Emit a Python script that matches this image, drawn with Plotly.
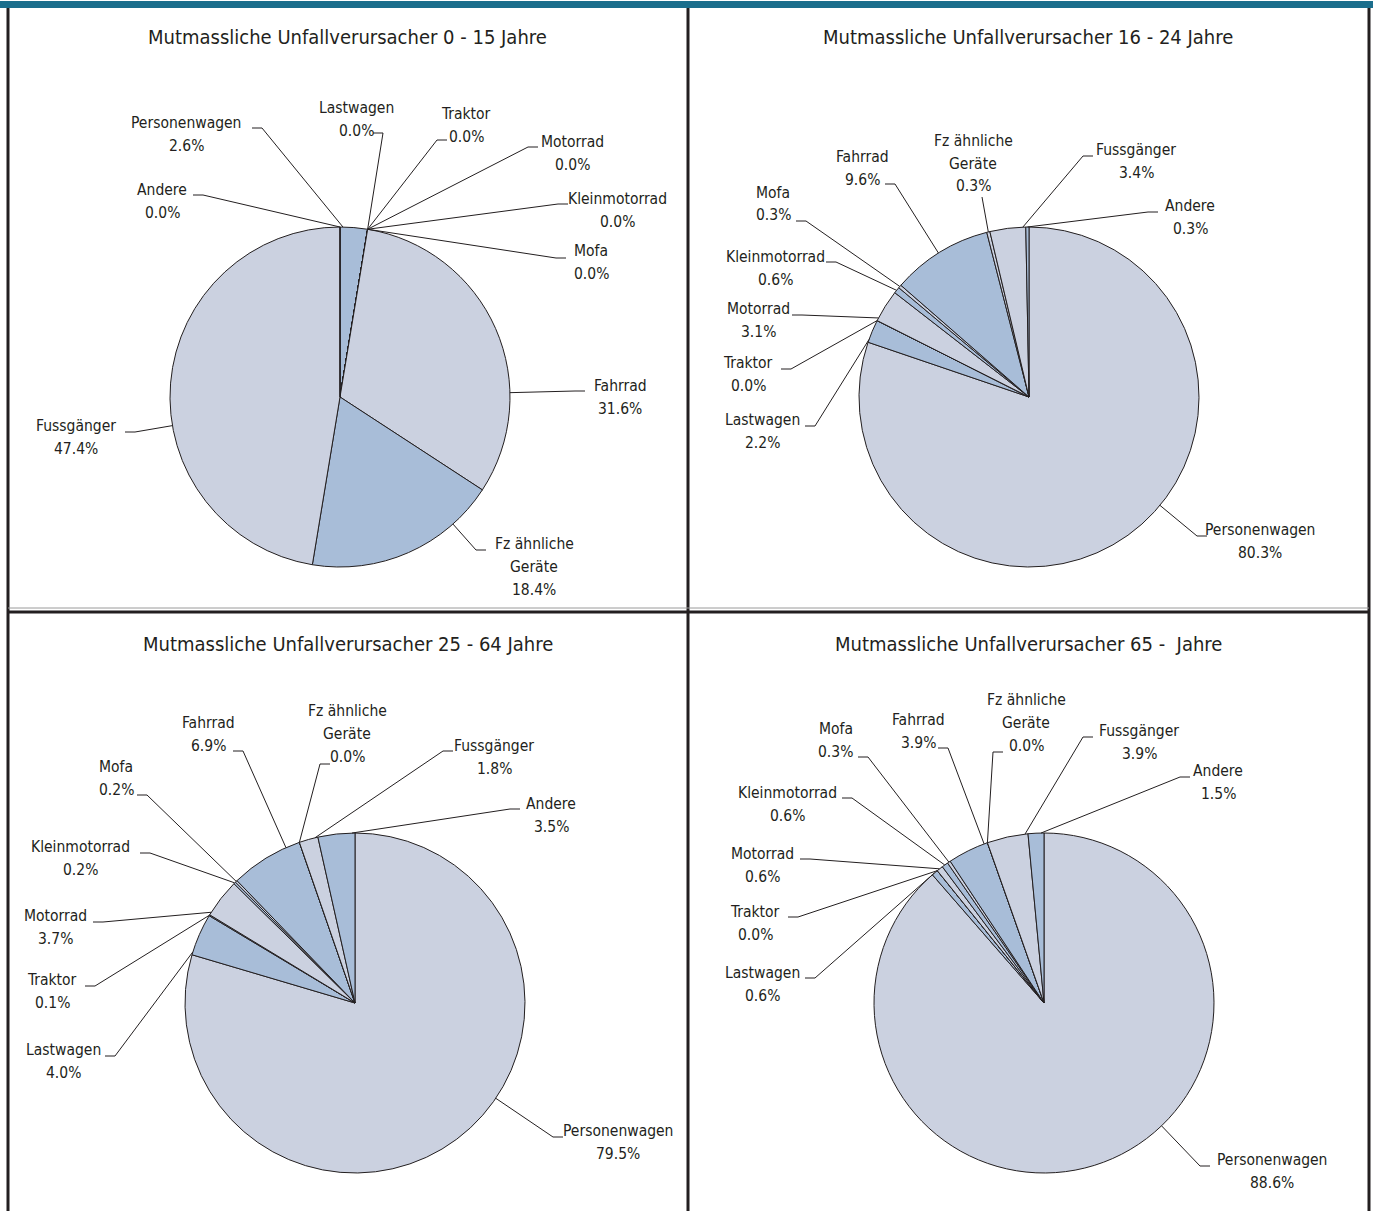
import math
import plotly.graph_objects as go

W, H = 1373, 1211

categories = ["Personenwagen", "Lastwagen", "Traktor", "Motorrad", "Kleinmotorrad",
              "Mofa", "Fahrrad", "Fz ähnliche Geräte", "Fussgänger", "Andere"]
label_lines = [["Personenwagen"], ["Lastwagen"], ["Traktor"], ["Motorrad"], ["Kleinmotorrad"],
               ["Mofa"], ["Fahrrad"], ["Fz ähnliche", "Geräte"], ["Fussgänger"], ["Andere"]]

titles = ["Mutmassliche Unfallverursacher 0 - 15 Jahre",
          "Mutmassliche Unfallverursacher 16 - 24 Jahre",
          "Mutmassliche Unfallverursacher 25 - 64 Jahre",
          "Mutmassliche Unfallverursacher 65 -  Jahre"]

values_0_15 = [2.6, 0.0, 0.0, 0.0, 0.0, 0.0, 31.6, 18.4, 47.4, 0.0]
values_16_24 = [80.3, 2.2, 0.0, 3.1, 0.6, 0.3, 9.6, 0.3, 3.4, 0.3]
values_25_64 = [79.5, 4.0, 0.1, 3.7, 0.2, 0.2, 6.9, 0.0, 1.8, 3.5]
values_65 = [88.6, 0.6, 0.0, 0.6, 0.6, 0.3, 3.9, 0.0, 3.9, 1.5]
all_values = [values_0_15, values_16_24, values_25_64, values_65]

# ---- styling / layout (pixels) ----
L, B = "#cbd1e0", "#a8bdd8"
colors_first = [B, L, B, L, B, L, L, B, L, B]
colors_other = [L, B, B, L, B, L, B, L, L, B]
pie_colors = [colors_first, colors_other, colors_other, colors_other]

R = 170
centers = [(340, 397), (1029, 397), (355, 1003), (1044, 1003)]
title_pos = [(348, 37), (1028, 37), (348, 644), (1028, 644)]
LINE_H = 23

# per label: text centre (tx, ty), leader elbow (ex, ey), tick side s
label_layout = [
    [(186, 134.5, 262, 128, 1), (356, 119.5, 383, 133, 1), (466, 125.5, 437, 140, -1),
     (572, 153.5, 528, 147, -1), (617, 210.5, 558, 204, -1), (591, 262.5, 556, 258, -1),
     (620, 397.5, 575, 391, -1), (534, 566.5, 476, 550, -1), (76, 437.5, 135, 432, 1),
     (162, 201.5, 203, 195, 1)],
    [(1260, 541, 1197, 536, -1), (762, 431.5, 815, 426, 1), (748, 374.5, 791, 369, 1),
     (758, 320.5, 802, 315, 1), (775, 268.5, 836, 262, 1), (773, 204, 806, 221, 1),
     (863, 168.5, 895, 184, 1), (973, 163.5, 982, 197, 0), (1136, 161.5, 1083, 156, -1),
     (1190, 217.5, 1148, 212, -1)],
    [(618, 1142, 553, 1137, -1), (63, 1061.5, 115, 1056, 1), (52, 991.5, 95, 986, 1),
     (56, 927.5, 103, 922, 1), (80, 858.5, 150, 853, 1), (116, 778.5, 147, 795, 1),
     (208, 734.5, 243, 751, 1), (347, 734, 320, 764, -1), (494, 757.5, 443, 751, -1),
     (551, 815.5, 510, 809, -1)],
    [(1272, 1171, 1200, 1166, -1), (762, 984.5, 815, 978, 1), (755, 923.5, 798, 917, 1),
     (762, 865.5, 810, 859, 1), (787, 804.5, 852, 798, 1), (836, 740.5, 868, 757, 1),
     (918, 731.5, 948, 748, 1), (1026, 722.5, 993, 752, -1), (1139, 742.5, 1083, 737, -1),
     (1218, 782.5, 1180, 777, -1)],
]

FONT = "Liberation Sans Narrow, DejaVu Sans Condensed, Arial Narrow, sans-serif"
TXT = "#231f20"


def px(x):
    return x / W


def py(y):
    return 1 - y / H


fig = go.Figure()
shapes = []
annotations = []

for k, vals in enumerate(all_values):
    cx, cy = centers[k]
    fig.add_trace(go.Pie(
        values=vals, labels=categories, sort=False, direction="clockwise", rotation=0,
        textinfo="none", showlegend=False, hoverinfo="label+percent",
        marker=dict(colors=pie_colors[k], line=dict(color="#231f20", width=1)),
        domain=dict(x=[px(cx - R), px(cx + R)], y=[py(cy + R), py(cy - R)]),
    ))
    total = sum(vals)
    cum = 0.0
    for i, v in enumerate(vals):
        a0 = cum / total * 360.0
        a1 = (cum + v) / total * 360.0
        cum += v
        tx, ty, ex, ey, s = label_layout[k][i]
        lines = label_lines[i] + [f"{v:.1f}%"]
        y_first = ty - (len(lines) - 1) * LINE_H / 2
        for j, line in enumerate(lines):
            annotations.append(dict(
                x=px(tx), y=py(y_first + j * LINE_H), xref="paper", yref="paper",
                showarrow=False, xanchor="center", yanchor="middle", align="center",
                text=line, font=dict(family=FONT, size=15.5, color=TXT)))
        # leader attach point: closest point on the slice arc
        ang = math.degrees(math.atan2(ex - cx, -(ey - cy))) % 360.0
        if not (a0 <= ang <= a1):
            d0 = min(abs(ang - a0), 360 - abs(ang - a0))
            d1 = min(abs(ang - a1), 360 - abs(ang - a1))
            ang = a0 if d0 < d1 else a1
        if a1 - a0 > 2:
            ang = min(max(ang, a0 + 1), a1 - 1)
        else:
            ang = (a0 + a1) / 2
        r = math.radians(ang)
        qx, qy = cx + R * math.sin(r), cy - R * math.cos(r)
        shapes.append(dict(type="line", xref="paper", yref="paper",
                           x0=px(ex), y0=py(ey), x1=px(qx), y1=py(qy),
                           line=dict(color="#231f20", width=1)))
        if s != 0:
            shapes.append(dict(type="line", xref="paper", yref="paper",
                               x0=px(ex - s * 10), y0=py(ey), x1=px(ex), y1=py(ey),
                               line=dict(color="#231f20", width=1)))
    annotations.append(dict(
        x=px(title_pos[k][0]), y=py(title_pos[k][1]), xref="paper", yref="paper",
        showarrow=False, xanchor="center", yanchor="middle", text=titles[k],
        font=dict(family=FONT, size=20, color=TXT)))

# frames
shapes.append(dict(type="rect", xref="paper", yref="paper", x0=0, x1=1, y0=py(8), y1=py(1),
                   fillcolor="#1b6e8c", line=dict(width=0)))
for x in (8, 688, 1369):
    shapes.append(dict(type="line", xref="paper", yref="paper", x0=px(x), x1=px(x),
                       y0=py(8), y1=0, line=dict(color="#231f20", width=3)))
shapes.append(dict(type="line", xref="paper", yref="paper", x0=px(8), x1=px(1369),
                   y0=py(608), y1=py(608), line=dict(color="#9a9a9a", width=1)))
shapes.append(dict(type="line", xref="paper", yref="paper", x0=px(8), x1=px(1369),
                   y0=py(612), y1=py(612), line=dict(color="#231f20", width=3)))

fig.update_layout(
    width=W, height=H, margin=dict(l=0, r=0, t=0, b=0),
    paper_bgcolor="white", plot_bgcolor="white",
    shapes=shapes, annotations=annotations,
)

fig.write_html("out.html", config={"displayModeBar": False},
               post_script="document.body.style.margin='0';")
